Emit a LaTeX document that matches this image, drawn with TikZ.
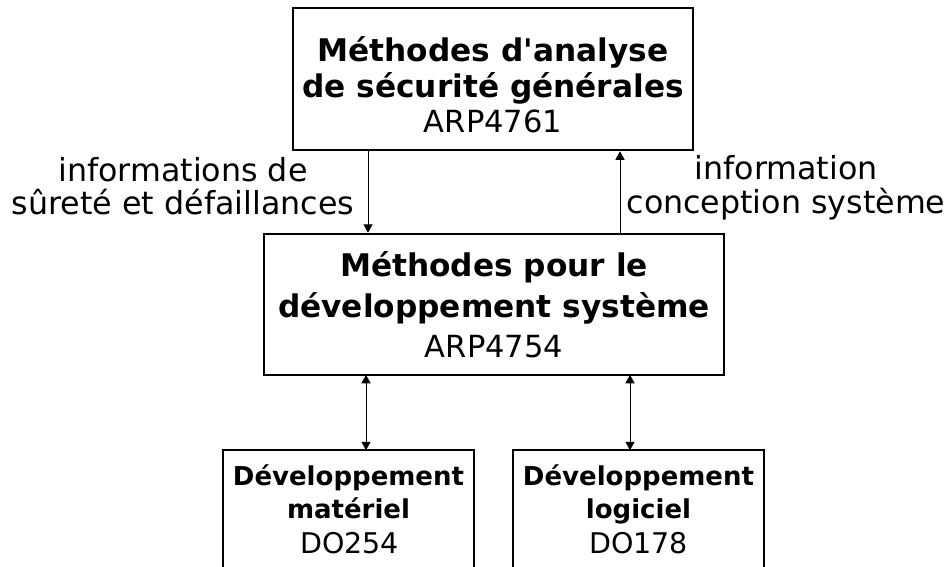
\documentclass[tikz,border=0pt]{standalone}
\usepackage{fontspec}
\setmainfont{DejaVu Sans}[Ligatures=TeXOff]
\usetikzlibrary{arrows.meta}
\begin{document}
\begin{tikzpicture}[x=1pt,y=-1pt,
  boxnode/.style={draw=black, line width=2.5pt, inner sep=0pt, fill=none},
  bigb/.style={font=\fontsize{31.2}{36}\selectfont\bfseries, anchor=base, inner sep=0pt},
  bigr/.style={font=\fontsize{30.5}{36}\selectfont, anchor=base, inner sep=0pt},
  smb/.style={font=\fontsize{26}{30}\selectfont\bfseries, anchor=base, inner sep=0pt},
  smr/.style={font=\fontsize{28.5}{34}\selectfont, anchor=base, inner sep=0pt},
  lbl/.style={font=\fontsize{31.7}{36}\selectfont, anchor=base, inner sep=0pt},
  arr/.style={line width=1pt, -{Triangle[length=8.5pt,width=9pt]}},
  darr/.style={line width=1pt, {Triangle[length=8.5pt,width=9pt]}-{Triangle[length=8.5pt,width=9pt]}}]
\clip (0,0) rectangle (949,566);
\fill[white] (0,0) rectangle (949,566);

% boxes
\node[boxnode, minimum width=400pt, minimum height=142pt] (top) at (493,79) {};
\node[boxnode, minimum width=460pt, minimum height=141pt] (mid) at (494,304.5) {};
\node[boxnode, minimum width=251pt, minimum height=160pt] (hw) at (348.5,530) {};
\node[boxnode, minimum width=251pt, minimum height=160pt] (sw) at (638.5,530) {};

% texts in top box
\node[bigb] (t1) at (493,61) {Méthodes d'analyse};
\node[bigb] (t2) at (493,97) {de sécurité générales};
\node[bigr] (t3) at (493,132) {ARP4761};

% texts in middle box
\node[bigb] (m1) at (494,276) {Méthodes pour le};
\node[bigb] (m2) at (494,317) {développement système};
\node[bigr] (m3) at (494,357) {ARP4754};

% bottom boxes
\node[smb] (h1) at (348.5,485) {Développement};
\node[smb] (h2) at (348.5,518) {matériel};
\node[smr] (h3) at (349.5,553) {DO254};
\node[smb] (s1) at (638.5,485) {Développement};
\node[smb] (s2) at (638.5,518) {logiciel};
\node[smr] (s3) at (638.5,553) {DO178};

% side labels
\node[lbl] (l1) at (183,181) {informations de};
\node[lbl] (l2) at (183,214) {sûreté et défaillances};
\node[lbl] (r1) at (786,179) {information};
\node[lbl] (r2) at (786,213) {conception système};

% connectors
\draw[arr] ([xshift=-125pt]top.south) -- ([xshift=-126pt]mid.north);
\draw[arr] ([xshift=126pt]mid.north) -- ([xshift=127pt]top.south);
\draw[darr] ([xshift=-128pt,yshift=1.5pt]mid.south) -- ([xshift=17.5pt,yshift=-1.5pt]hw.north);
\draw[darr] ([xshift=136pt,yshift=1.5pt]mid.south) -- ([xshift=-8.5pt,yshift=-1.5pt]sw.north);
\end{tikzpicture}
\end{document}
